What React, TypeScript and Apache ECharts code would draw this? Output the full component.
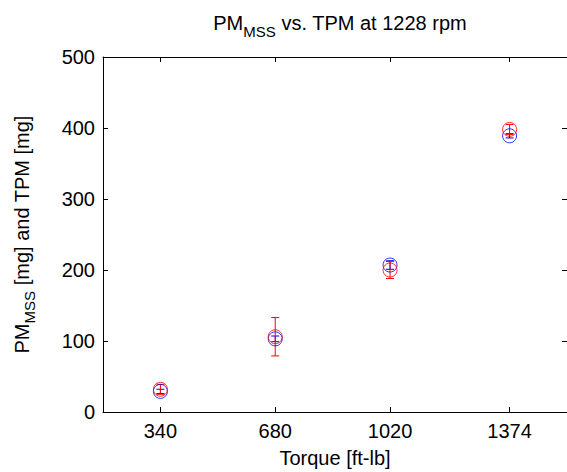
import React, { useEffect, useRef } from "react";
import * as echarts from "echarts";

const torque = [340, 680, 1020, 1374];
const pmMss = [32, 106, 200, 398];
const pmMssErr = [7, 27, 12, 7];
const tpm = [29, 103, 207, 389];
const tpmErr = [3, 4, 6, 3];
const yTicks = [0, 100, 200, 300, 400, 500];

const FONT = "Liberation Sans, Arial, sans-serif";
const FS = 20;
const SUB = 15;

function errorSeries(xs: number[], ys: number[], errs: number[], color: string) {
  return {
    type: "custom",
    xAxisIndex: 0,
    yAxisIndex: 0,
    data: xs.map((x, i) => [x, ys[i], errs[i]]),
    renderItem: (params: any, api: any) => {
      const x = api.value(0);
      const y = api.value(1);
      const e = api.value(2);
      const top = api.coord([x, y + e]);
      const bot = api.coord([x, y - e]);
      const cw = 4;
      const st = { stroke: color, lineWidth: 1 };
      return {
        type: "group",
        children: [
          { type: "line", shape: { x1: top[0], y1: top[1], x2: bot[0], y2: bot[1] }, style: st },
          { type: "line", shape: { x1: top[0] - cw, y1: top[1], x2: top[0] + cw, y2: top[1] }, style: st },
          { type: "line", shape: { x1: bot[0] - cw, y1: bot[1], x2: bot[0] + cw, y2: bot[1] }, style: st },
        ],
      };
    },
    z: 3,
  };
}

export default function App() {
  const ref = useRef<HTMLDivElement>(null);
  useEffect(() => {
    document.body.style.margin = "0";
    const chart = echarts.init(ref.current!, null, { renderer: "svg" });
    const rich = {
      m: { fontSize: FS, lineHeight: 32, fontFamily: FONT, color: "#000", fontWeight: "normal" },
      s: { fontSize: SUB, lineHeight: 13, verticalAlign: "bottom", fontFamily: FONT, color: "#000", fontWeight: "normal" },
    };
    const xBase = {
      type: "value",
      min: 170,
      max: 1544,
      splitLine: { show: false },
      axisLine: { show: true, onZero: false, lineStyle: { color: "#000", width: 1 } },
      axisTick: { show: true, inside: true, length: 5, lineStyle: { color: "#000" }, customValues: torque },
      axisLabel: {
        show: true,
        customValues: torque,
        formatter: (v: number) => String(v),
        color: "#000",
        fontSize: FS,
        fontFamily: FONT,
        margin: 9,
      },
    };
    const yBase = {
      type: "value",
      min: 0,
      max: 500,
      interval: 100,
      splitLine: { show: false },
      axisLine: { show: true, onZero: false, lineStyle: { color: "#000", width: 1 } },
      axisTick: { show: true, inside: true, length: 5, lineStyle: { color: "#000" }, customValues: yTicks },
      axisLabel: {
        show: true,
        customValues: yTicks,
        formatter: (v: number) => String(v),
        color: "#000",
        fontSize: FS,
        fontFamily: FONT,
        margin: 8,
      },
    };
    chart.setOption({
      animation: false,
      backgroundColor: "#fff",
      title: {
        text: "{m|PM}{s|MSS}{m| vs. TPM at 1228 rpm}",
        left: 335,
        top: 2,
        textAlign: "center",
        textStyle: { rich, fontWeight: "normal" },
      },
      grid: { left: 103, right: 0, top: 57, bottom: 60, show: false, outerBoundsMode: "none", containLabel: false },
      xAxis: [
        {
          ...xBase,
          position: "bottom",
          name: "Torque [ft-lb]",
          nameLocation: "middle",
          nameGap: 36,
          nameTextStyle: { fontSize: FS, fontFamily: FONT, color: "#000" },
        },
        { ...xBase, position: "top", axisLabel: { show: false } },
      ],
      yAxis: [
        {
          ...yBase,
          position: "left",
          name: "{m|PM}{s|MSS}{m| [mg] and TPM [mg]}",
          nameLocation: "middle",
          nameGap: 66,
          nameRotate: 90,
          nameTextStyle: {
            rich: {
              m: { fontSize: FS, lineHeight: 30, fontFamily: FONT, color: "#000" },
              s: { fontSize: SUB, lineHeight: 13, verticalAlign: "bottom", fontFamily: FONT, color: "#000" },
            },
          },
        },
        { ...yBase, position: "right", axisLabel: { show: false } },
      ],
      series: [
        errorSeries(torque, tpm, tpmErr, "#0000ff"),
        {
          type: "scatter",
          data: torque.map((x, i) => [x, tpm[i]]),
          symbol: "circle",
          symbolSize: 14,
          itemStyle: { color: "rgba(0,0,0,0)", borderColor: "#0000ff", borderWidth: 1 },
          z: 4,
        },
        errorSeries(torque, pmMss, pmMssErr, "#ff0000"),
        {
          type: "scatter",
          data: torque.map((x, i) => [x, pmMss[i]]),
          symbol: "circle",
          symbolSize: 14,
          itemStyle: { color: "rgba(0,0,0,0)", borderColor: "#ff0000", borderWidth: 1 },
          z: 5,
        },
      ],
    });
    return () => chart.dispose();
  }, []);
  return <div ref={ref} style={{ width: 567, height: 472 }} />;
}
